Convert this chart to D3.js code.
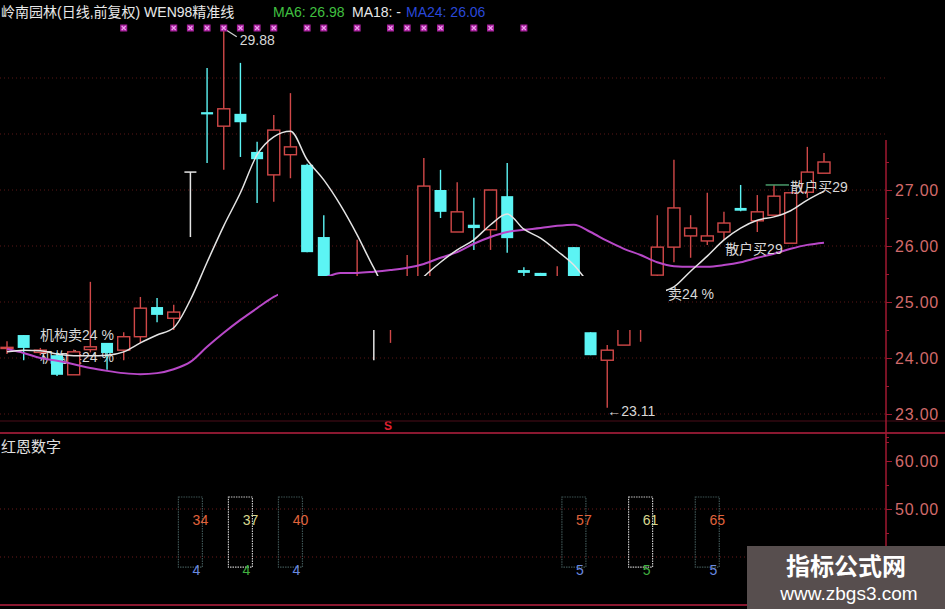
<!DOCTYPE html>
<html><head><meta charset="utf-8">
<script src="https://cdn.jsdelivr.net/npm/d3@7"></script>
<style>html,body{margin:0;padding:0;background:#000;overflow:hidden}</style>
</head><body><svg id="c" width="945" height="609"></svg>
<script>
// ---- data ----
const openP  = [24.17,24.41,24.10,24.05,23.70,24.15,24.27,24.14,24.38,24.91,24.71,27.32,28.39,28.14,28.36,27.68,27.27,27.63,27.45,26.16,25.20,25.10,24.90,24.95,25.00,25.20,27.00,26.25,26.38,26.29,26.89,25.57,25.52,25.00,25.98,24.46,23.96,24.23,24.70,25.48,25.98,26.18,26.09,26.25,26.68,26.45,26.55,26.05,26.96,27.30];
const highP  = [24.30,24.41,24.18,24.10,24.15,25.36,24.27,24.46,25.09,25.07,24.95,27.32,29.18,29.88,29.27,27.86,28.34,28.73,27.47,26.55,25.30,26.11,25.00,25.10,25.84,27.57,27.36,27.14,26.86,27.00,27.48,25.62,25.52,25.64,25.98,24.46,24.23,24.80,25.00,26.55,27.54,26.55,26.95,26.61,27.09,26.91,27.09,26.95,27.77,27.66];
const lowP   = [24.07,23.96,24.05,23.68,23.70,24.10,23.79,23.96,24.27,24.64,24.50,26.16,27.48,27.36,27.59,26.77,26.79,27.21,25.89,25.30,24.95,24.90,23.96,24.27,24.90,25.10,26.50,26.25,25.93,25.93,25.88,25.46,25.30,24.90,25.10,24.05,23.11,24.23,24.29,25.45,25.71,25.79,26.02,26.11,26.62,26.25,26.55,26.05,26.86,27.30];
const closeP = [24.19,24.18,24.14,23.70,24.11,24.20,24.09,24.38,24.89,24.77,24.82,27.32,28.35,28.45,28.21,27.55,28.07,27.77,25.89,25.40,25.05,25.30,24.90,25.05,25.20,27.07,26.61,26.61,26.32,27.00,26.14,25.52,25.46,25.20,25.20,24.05,24.14,24.70,24.90,25.98,26.68,26.32,26.18,26.41,26.63,26.61,26.89,26.95,27.32,27.50];
const ma6  = [24.11,24.14,24.13,24.07,24.04,24.04,24.05,24.11,24.27,24.41,24.54,25.04,25.71,26.36,26.95,27.63,27.95,28.05,27.54,27.18,26.73,26.20,25.61,25.13,25.13,25.45,25.71,25.93,26.11,26.38,26.57,26.30,26.14,25.91,25.66,25.30,25.04,24.95,25.04,25.16,25.27,25.55,25.82,26.11,26.32,26.46,26.52,26.63,26.82,26.98];
const ma24 = [24.16,24.09,24.00,23.95,23.89,23.82,23.77,23.73,23.71,23.73,23.80,23.93,24.20,24.45,24.68,24.89,25.09,25.23,25.34,25.43,25.52,25.52,25.54,25.57,25.61,25.68,25.79,25.89,26.04,26.16,26.25,26.29,26.32,26.36,26.38,26.25,26.09,25.95,25.84,25.71,25.64,25.63,25.63,25.66,25.71,25.79,25.86,25.95,26.02,26.06];
const markerIdx = [7,10,11,12,13,14,15,16,18,19,21,23,24,25,26,28,29,31];
const priceTicks = [23,24,25,26,27];
const priceGrid = [23,24,25,26,27,28,29];
const minorTicks = [22.5,23.5,24.5,25.5,26.5,27.5];
const subTicks = [50,60];
const subGrid = [40,50];
const subMinor = [45,55,65];
const hongIdx = [11,14,17,34,38,42];
const hongTop = [34,37,40,57,61,65];
const hongBottom = [4,4,4,5,5,5];
const hongMid = [false,true,false,false,true,false];
const annot = [
  {t:'机构卖24  %', i:1.98, p:24.32, front:true},
  {t:'机构卖24  %', i:1.98, p:23.93, front:false},
  {t:'卖24  %', i:39.65, p:25.05, front:true},
  {t:'散户买29', i:43.07, p:25.86, front:true},
  {t:'散户买29', i:46.97, p:26.96, front:true}
];
const greenMark = {from:45.5, to:46.9, p:27.09};
const hiIdx = 13, hiVal = 29.88, loIdx = 36, loVal = 23.11;

// ---- setup ----
const W=945,H=609, axisX=886;
const font='"Liberation Sans","Noto Sans CJK SC",sans-serif';
const svg=d3.select('#c');
svg.append('rect').attr('width',W).attr('height',H).attr('fill','#000');
const x=d3.scaleLinear().domain([0,49]).range([7,824]);
const y=d3.scaleLinear().domain([23,27]).range([414,190]);
const y2=d3.scaleLinear().domain([50,60]).range([509,461]);
const RED='#d04848', CYAN='#5cf4f4', WHITE='#e4e4e4';

// grid
svg.append('g').selectAll('line').data(priceGrid).join('line')
  .attr('x1',0).attr('x2',axisX).attr('y1',d=>y(d)).attr('y2',d=>y(d))
  .attr('stroke','#5a1616').attr('stroke-dasharray','1,3');
svg.append('g').selectAll('line').data(subGrid).join('line')
  .attr('x1',0).attr('x2',axisX).attr('y1',d=>y2(d)).attr('y2',d=>y2(d))
  .attr('stroke','#6a1a1a').attr('stroke-dasharray','1,3');

const annG=(front)=>svg.append('g').selectAll('text').data(annot.filter(a=>a.front===front)).join('text')
  .attr('x',d=>x(d.i)).attr('y',d=>y(d.p)).text(d=>d.t)
  .attr('fill','#d8d8d8').attr('font-size',14).attr('font-family',font);
annG(false);

// candles
const idx=d3.range(openP.length);
const bw=12;
const cg=svg.append('g');
idx.forEach(i=>{
  const o=openP[i],c=closeP[i],h=highP[i],l=lowP[i],cx=x(i);
  const g=cg.append('g');
  if(o===c){
    g.append('line').attr('x1',cx).attr('x2',cx).attr('y1',y(h)).attr('y2',y(l)).attr('stroke',WHITE).attr('stroke-width',1.5);
    g.append('line').attr('x1',cx-bw/2).attr('x2',cx+bw/2).attr('y1',y(o)).attr('y2',y(o)).attr('stroke',WHITE).attr('stroke-width',1.5);
  } else if(c>o){
    g.append('line').attr('x1',cx).attr('x2',cx).attr('y1',y(h)).attr('y2',y(c)).attr('stroke',RED).attr('stroke-width',1.4);
    g.append('line').attr('x1',cx).attr('x2',cx).attr('y1',y(o)).attr('y2',y(l)).attr('stroke',RED).attr('stroke-width',1.4);
    g.append('rect').attr('x',cx-bw/2).attr('width',bw).attr('y',y(c)).attr('height',Math.max(1,y(o)-y(c)))
      .attr('fill','#000').attr('stroke',RED).attr('stroke-width',1.4);
  } else {
    g.append('line').attr('x1',cx).attr('x2',cx).attr('y1',y(h)).attr('y2',y(l)).attr('stroke',CYAN).attr('stroke-width',1.4);
    g.append('rect').attr('x',cx-bw/2).attr('width',bw).attr('y',y(o)).attr('height',Math.max(2,y(c)-y(o)))
      .attr('fill',CYAN);
  }
});

svg.append('line').attr('x1',x(greenMark.from)).attr('x2',x(greenMark.to))
  .attr('y1',y(greenMark.p)).attr('y2',y(greenMark.p)).attr('stroke','#4a9a6a').attr('stroke-width',1.5);

// MA lines
const lineGen=arr=>d3.line().defined(d=>d!=null).x((d,i)=>x(i)).y(d=>y(d)).curve(d3.curveMonotoneX)(arr);
svg.append('path').attr('d',lineGen(ma24)).attr('fill','none').attr('stroke','#b848c8').attr('stroke-width',2);
svg.append('path').attr('d',lineGen(ma6)).attr('fill','none').attr('stroke',WHITE).attr('stroke-width',1.5);

// screenshot glitch band
svg.append('rect').attr('x',278).attr('y',276).attr('width',388).attr('height',54).attr('fill','#000');

annG(true);

// high / low labels
svg.append('line').attr('x1',x(hiIdx)+2).attr('y1',y(hiVal)+1).attr('x2',x(hiIdx)+13).attr('y2',y(hiVal)+8)
  .attr('stroke','#d0d0d0').attr('stroke-width',1.3);
svg.append('text').attr('x',x(hiIdx)+16).attr('y',y(hiVal)+16).text(d3.format('.2f')(hiVal))
  .attr('fill','#d8d8d8').attr('font-size',14).attr('font-family',font);
svg.append('text').attr('x',x(loIdx)).attr('y',y(loVal)+8).text('←'+d3.format('.2f')(loVal))
  .attr('fill','#d8d8d8').attr('font-size',14).attr('font-family',font);

// top markers
const mg=svg.append('g').selectAll('g').data(markerIdx).join('g').attr('transform',d=>`translate(${x(d)},28)`);
mg.append('rect').attr('x',-3.5).attr('y',-3.5).attr('width',7).attr('height',7).attr('fill','#a8209c');
mg.append('path').attr('d','M-2,-2L2,2M2,-2L-2,2').attr('stroke','#f0a0f0').attr('stroke-width',1.2);

// title
const title=svg.append('text').attr('y',17).attr('font-size',14).attr('font-family',font);
title.append('tspan').attr('x',1).attr('fill','#e8e8e8').text('岭南园林(日线,前复权) WEN98精准线');
title.append('tspan').attr('x',273).attr('fill','#40c040').text('MA6: 26.98');
title.append('tspan').attr('x',352).attr('fill','#e8e8e8').text('MA18: -');
title.append('tspan').attr('x',406).attr('fill','#2a48d8').text('MA24: '+d3.format('.2f')(ma24[ma24.length-1]));

// red S marker
svg.append('text').attr('x',388).attr('y',430).attr('text-anchor','middle').text('S')
  .attr('fill','#e02030').attr('font-size',12).attr('font-weight','bold').attr('font-family',font);

// panel separators
svg.append('line').attr('x1',0).attr('x2',W).attr('y1',421).attr('y2',421).attr('stroke','#4a0d18').attr('stroke-width',1);
svg.append('line').attr('x1',0).attr('x2',W).attr('y1',433).attr('y2',433).attr('stroke','#8a1830').attr('stroke-width',2);
svg.append('line').attr('x1',0).attr('x2',W).attr('y1',605).attr('y2',605).attr('stroke','#8a1830').attr('stroke-width',2);

// right axis
svg.append('line').attr('x1',axisX).attr('x2',axisX).attr('y1',140).attr('y2',H).attr('stroke','#a01830').attr('stroke-width',1.5);
const styleAxis=g=>{g.select('.domain').remove();g.selectAll('line').attr('stroke','#a01830');
  g.selectAll('text').attr('fill','#d26a6a').attr('font-size',16).attr('font-family',font).attr('letter-spacing',0.8);};
svg.append('g').attr('transform',`translate(${axisX},0)`)
  .call(d3.axisRight(y).tickValues(priceTicks).tickFormat(d3.format('.2f')).tickSize(6).tickPadding(3)).call(styleAxis);
svg.append('g').attr('transform',`translate(${axisX},0)`)
  .call(d3.axisRight(y).tickValues(minorTicks).tickFormat('').tickSize(3)).call(styleAxis);
svg.append('g').attr('transform',`translate(${axisX},0)`)
  .call(d3.axisRight(y2).tickValues(subTicks).tickFormat(d3.format('.2f')).tickSize(6).tickPadding(3)).call(styleAxis);
svg.append('g').attr('transform',`translate(${axisX},0)`)
  .call(d3.axisRight(y2).tickValues(subMinor).tickFormat('').tickSize(3)).call(styleAxis);

// sub panel
svg.append('text').attr('x',1).attr('y',452).text('红恩数字').attr('fill','#e0e0e0').attr('font-size',15).attr('font-family',font);
const hg=svg.append('g').selectAll('g').data(hongIdx.map((d,k)=>({i:d,t:hongTop[k],b:hongBottom[k],m:hongMid[k]}))).join('g');
hg.append('rect').attr('x',d=>x(d.i)-12).attr('width',24).attr('y',y2(52.5)).attr('height',y2(37.9)-y2(52.5))
  .attr('fill','none').attr('stroke',d=>d.m?'#c8c8c8':'#3e5454').attr('stroke-width',1.2).attr('stroke-dasharray','1.5,1');
hg.append('text').attr('x',d=>x(d.i)+10).attr('y',y2(47.7)).attr('dy','0.35em').attr('text-anchor','middle')
  .text(d=>d.t).attr('fill',d=>d.m?'#d8d890':'#e0643c').attr('font-size',14).attr('font-family',font);
hg.append('text').attr('x',d=>x(d.i)+6).attr('y',y2(37.2)).attr('dy','0.35em').attr('text-anchor','middle')
  .text(d=>d.b).attr('fill',d=>d.m?'#40b040':'#6a8ae0').attr('font-size',14).attr('font-family',font);

// watermark
svg.append('rect').attr('x',747).attr('y',546).attr('width',198).attr('height',63).attr('fill','#574e4e');
svg.append('text').attr('x',846).attr('y',575).attr('text-anchor','middle').text('指标公式网')
  .attr('fill','#fff').attr('font-size',24).attr('font-weight','bold').attr('font-family',font);
svg.append('text').attr('x',849).attr('y',600).attr('text-anchor','middle').text('www.zbgs3.com')
  .attr('fill','#fff').attr('font-size',19).attr('font-family',font);
</script></body></html>
